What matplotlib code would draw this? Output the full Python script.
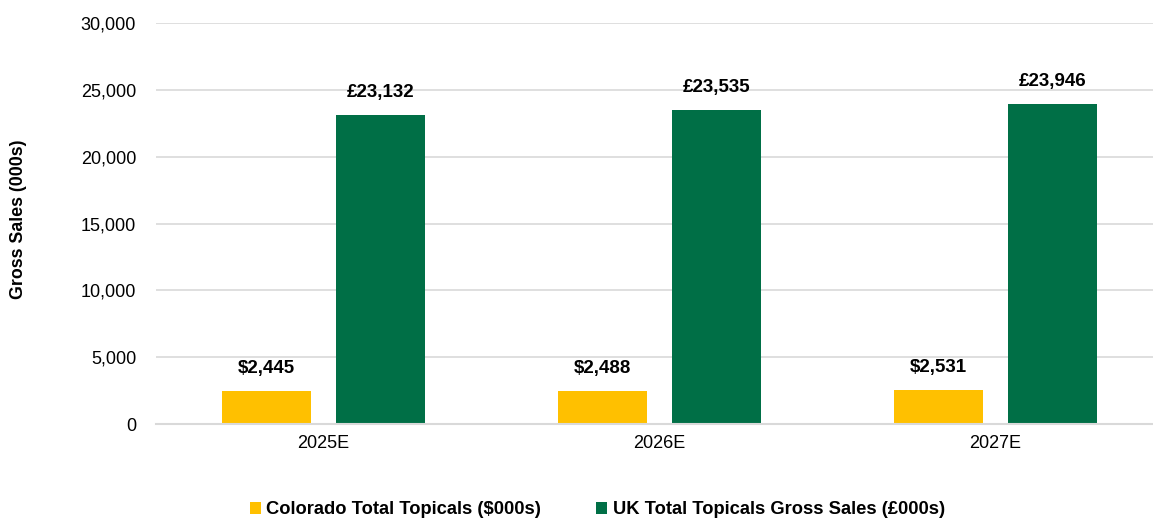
import matplotlib
matplotlib.use("Agg")
import matplotlib.pyplot as plt
import numpy as np
from matplotlib.ticker import FuncFormatter

plt.rcParams["font.family"] = ["Liberation Sans", "DejaVu Sans"]

years = ["2025E", "2026E", "2027E"]
colorado = [2445, 2488, 2531]
uk = [23132, 23535, 23946]
colorado_labels = ["$2,445", "$2,488", "$2,531"]
uk_labels = ["£23,132", "£23,535", "£23,946"]

YELLOW = "#FFC000"
GREEN = "#006F46"
GRID = "#D9D9D9"

fig = plt.figure(figsize=(11.53, 5.22), dpi=100)
ax = fig.add_axes([0.1349, 0.1877, 0.8651, 0.7677])

x = np.arange(len(years))
w = 0.265
off = 0.17
b1 = ax.bar(x - off, colorado, w, color=YELLOW, label="Colorado Total Topicals ($000s)", zorder=3)
b2 = ax.bar(x + off, uk, w, color=GREEN, label="UK Total Topicals Gross Sales (£000s)", zorder=3)

for rect, lab in zip(b1, colorado_labels):
    ax.annotate(lab.replace("$", r"\$"), (rect.get_x() + rect.get_width() / 2, rect.get_height()),
                xytext=(0, 10), textcoords="offset points", ha="center", va="bottom",
                fontsize=13.5, fontweight="bold")
for rect, lab in zip(b2, uk_labels):
    ax.annotate(lab, (rect.get_x() + rect.get_width() / 2, rect.get_height()),
                xytext=(0, 10), textcoords="offset points", ha="center", va="bottom",
                fontsize=13.5, fontweight="bold")

ax.set_ylim(0, 30000)
ax.set_yticks(np.arange(0, 30001, 5000))
ax.yaxis.set_major_formatter(FuncFormatter(lambda v, p: f"{int(v):,}"))
ax.set_xlim(-0.5, (1153 - 155.5) / 336 - 0.5)
ax.set_xticks(x)
ax.set_xticklabels(years)

ax.grid(axis="y", color=GRID, linewidth=1.2, zorder=0)
for s in ["top", "right", "left"]:
    ax.spines[s].set_visible(False)
ax.spines["bottom"].set_color(GRID)
ax.spines["bottom"].set_linewidth(1.5)
ax.spines["bottom"].set_zorder(4)
ax.tick_params(axis="both", length=0, labelsize=13)
ax.tick_params(axis="y", pad=14)
ax.tick_params(axis="x", pad=8)

fig.text(0.016, 0.58, "Gross Sales (000s)", rotation=90, ha="center", va="center",
         fontsize=12.8, fontweight="bold")

fig.legend(handles=[b1, b2], loc="center", bbox_to_anchor=(0.518, 0.023), ncol=2, frameon=False,
           handlelength=0.6, handleheight=0.6, handletextpad=0.3, columnspacing=3.0,
           prop={"size": 13.2, "weight": "bold"})

fig.savefig("out.png", dpi=100)
